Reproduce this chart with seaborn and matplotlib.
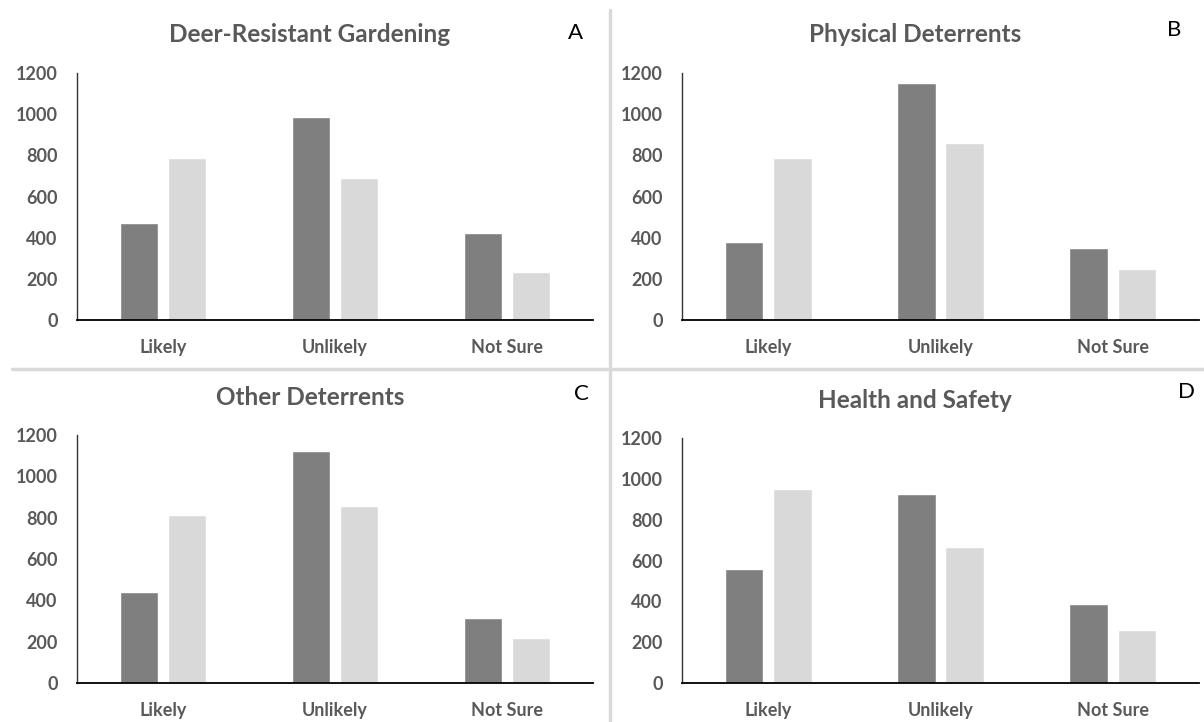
import numpy as np
import pandas as pd
import matplotlib
matplotlib.use('Agg')
import matplotlib.pyplot as plt
import seaborn as sns
from matplotlib.lines import Line2D

# Data
categories = ['Likely', 'Unlikely', 'Not Sure']
series = ['Series 1', 'Series 2']
titles = ['Deer-Resistant Gardening', 'Physical Deterrents', 'Other Deterrents', 'Health and Safety']
letters = ['A', 'B', 'C', 'D']
dark_a = [473, 986, 423]
light_a = [785, 692, 233]
dark_b = [381, 1153, 349]
light_b = [785, 858, 246]
dark_c = [441, 1124, 314]
light_c = [812, 855, 217]
dark_d = [557, 926, 389]
light_d = [951, 668, 262]
yticks = [0, 200, 400, 600, 800, 1000, 1200]

panels = [(dark_a, light_a), (dark_b, light_b), (dark_c, light_c), (dark_d, light_d)]

sns.set_style('white')
plt.rcParams['font.family'] = ['Lato', 'DejaVu Sans']

W, H = 1204, 722
fig = plt.figure(figsize=(W / 100, H / 100), dpi=100)

# axes boxes in pixels: left, top, right, bottom
boxes = [(77, 73, 593, 320), (682, 73, 1199, 320),
         (77, 435, 593, 683), (682, 438, 1199, 683)]
title_pos = [(310, 35), (915, 35), (310, 398), (915, 400)]
letter_pos = [(575, 33), (1174, 30), (581, 394), (1186, 392)]

text_col = '#595959'
palette = ['#7f7f7f', '#d9d9d9']

for i, (dark, light) in enumerate(panels):
    l, t, r, b = boxes[i]
    ax = fig.add_axes([l / W, 1 - b / H, (r - l) / W, (b - t) / H])
    df = pd.DataFrame({
        'category': categories * 2,
        'series': [series[0]] * 3 + [series[1]] * 3,
        'value': dark + light,
    })
    sns.barplot(data=df, x='category', y='value', hue='series', palette=palette,
                width=0.56, gap=0.2, ax=ax, legend=False, saturation=1)
    ax.set_xlim(-0.5, 2.5)
    ax.set_ylim(0, 1200)
    ax.set_yticks(yticks)
    ax.set_xlabel('')
    ax.set_ylabel('')
    ax.tick_params(axis='both', length=0, labelsize=13, colors=text_col)
    ax.tick_params(axis='x', pad=14)
    ax.tick_params(axis='y', pad=14)
    for lab in ax.get_xticklabels() + ax.get_yticklabels():
        lab.set_fontweight('bold')
    for s in ['top', 'right']:
        ax.spines[s].set_visible(False)
    ax.spines['left'].set_color('#333333')
    ax.spines['bottom'].set_color('black')
    ax.spines['left'].set_linewidth(1.0)
    ax.spines['bottom'].set_linewidth(1.3)
    ax.set_facecolor('none')

    tx, ty = title_pos[i]
    fig.text(tx / W, 1 - ty / H, titles[i], ha='center', va='center',
             fontsize=17.5, fontweight='bold', color=text_col)
    lx, ly = letter_pos[i]
    fig.text(lx / W, 1 - ly / H, letters[i], ha='center', va='center',
             fontsize=16, color='black')

# divider lines
fig.add_artist(Line2D([610 / W, 610 / W], [0, 1 - 10 / H], color='#d9d9d9', lw=2.5))
fig.add_artist(Line2D([12 / W, 1], [1 - 369 / H, 1 - 369 / H], color='#d9d9d9', lw=2.5))

fig.savefig('out.png', dpi=100)
